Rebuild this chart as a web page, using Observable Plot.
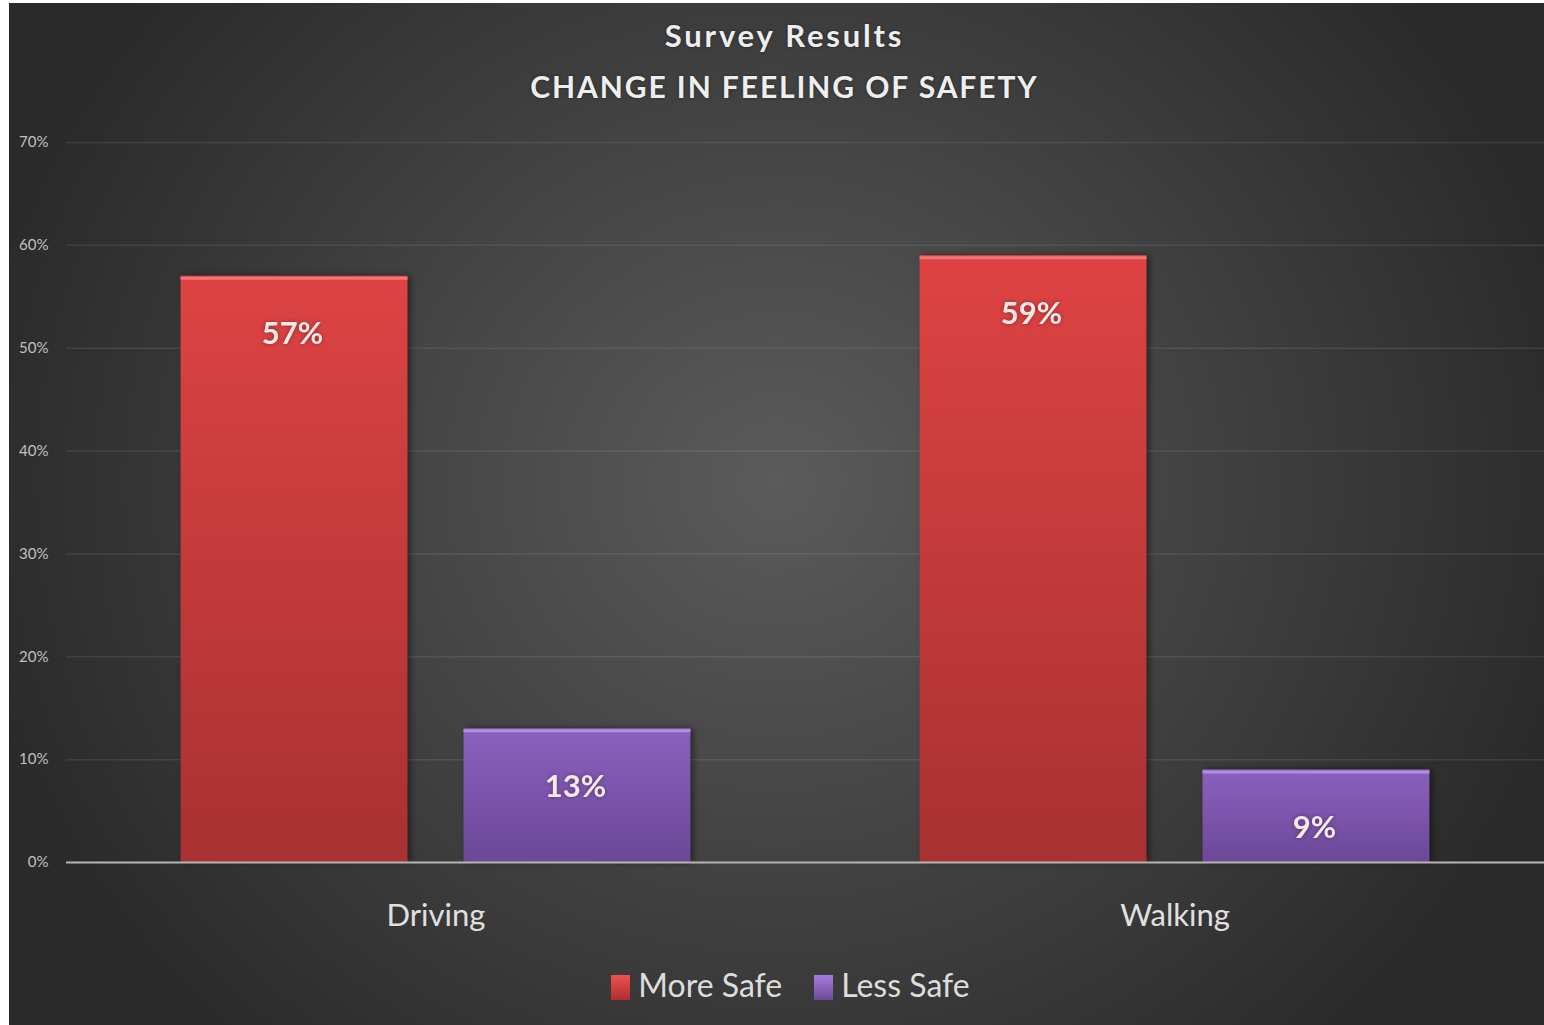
<!DOCTYPE html>
<html>
<head>
<meta charset="utf-8">
<script src="https://cdn.jsdelivr.net/npm/d3@7"></script>
<script src="https://cdn.jsdelivr.net/npm/@observablehq/plot@0.6"></script>
<style>
  html, body { margin: 0; padding: 0; background: #ffffff; width: 1544px; height: 1025px; overflow: hidden; }
  #frame {
    position: absolute; left: 9px; top: 3px; width: 1535px; height: 1022px;
    background: radial-gradient(ellipse 820px 760px at 50% 47%, #5b5b5b 0%, #2a2a2a 100%);
    font-family: Lato, "Open Sans", sans-serif;
    overflow: hidden;
  }
  .title { position: absolute; left: 8px; width: 100%; text-align: center; color: #eeeeee; font-weight: bold; text-shadow: 0 0 3px rgba(0,0,0,0.5); }
  #t1 { top: 13px; font-size: 31px; letter-spacing: 2.8px; }
  #t2 { top: 65px; font-size: 30px; letter-spacing: 1.9px; }
  #chart { position: absolute; left: 0; top: 119px; }
  #legend { position: absolute; left: 14px; top: 962px; width: 100%; text-align: center; color: #dddddd; font-size: 32px; }
  .item { display: inline-block; margin: 0 16px; }
  .sw { display: inline-block; width: 19px; height: 25px; vertical-align: -3px; margin-right: 8px; }
</style>
</head>
<body>
<div id="frame">
  <div class="title" id="t1">Survey Results</div>
  <div class="title" id="t2">CHANGE IN FEELING OF SAFETY</div>
  <div id="chart"></div>
  <div id="legend"></div>
</div>
<script>
const categories = ["Driving", "Walking"];
const series = ["More Safe", "Less Safe"];
const moreSafe = [57, 59];
const lessSafe = [13, 9];
const yTicks = [0, 10, 20, 30, 40, 50, 60, 70];
const seriesColors = ["url(#gradRed)", "url(#gradPurple)"];
const highlightColors = ["#f27474", "#b08ee0"];
const legendSwatches = ["linear-gradient(#f05050, #b02e2e)", "linear-gradient(#a57be0, #6f4a9a)"];

const data = [];
categories.forEach((c, i) => {
  data.push({category: c, series: series[0], value: moreSafe[i]});
  data.push({category: c, series: series[1], value: lessSafe[i]});
});

const plot = Plot.plot({
  width: 1535,
  height: 820,
  marginLeft: 56,
  marginRight: 0,
  marginTop: 20,
  marginBottom: 80,
  style: {background: "transparent", fontFamily: "Lato, 'Open Sans', sans-serif", color: "#cccccc", overflow: "visible"},
  fx: {domain: categories, padding: 0, label: null},
  x: {domain: series, paddingInner: 0.198, paddingOuter: 0.405, round: false, axis: null},
  y: {domain: [0, 70], label: null},
  color: {domain: series, range: seriesColors},
  marks: [
    Plot.gridY(yTicks, {stroke: "#ffffff", strokeOpacity: 0.09, strokeWidth: 1.5}),
    Plot.axisY(yTicks, {tickSize: 0, tickPadding: 18, tickFormat: d => d + "%", fontSize: 15, fill: "#c0c0c0", label: null}),
    Plot.axisFx({anchor: "bottom", tickSize: 0, tickPadding: 41, fontSize: 31, fill: "#e0e0e0", label: null}),
    Plot.barY(data, {fx: "category", x: "series", y: "value", fill: "series"}),
    Plot.tickY(data, {fx: "category", x: "series", y: "value", stroke: d => highlightColors[series.indexOf(d.series)], strokeWidth: 3, dy: 2}),
    Plot.ruleY([0], {stroke: "#b4b4b4", strokeWidth: 2}),
    Plot.text(data, {fx: "category", x: "series", y: "value", text: d => d.value + "%", dy: 58, dx: -2, fill: "#f5e8e8", fontSize: 31, fontWeight: "bold"})
  ]
});

const svg = d3.select(plot);
const defs = svg.insert("defs", ":first-child");
const g1 = defs.append("linearGradient").attr("id", "gradRed").attr("x1", 0).attr("y1", 0).attr("x2", 0).attr("y2", 1);
g1.append("stop").attr("offset", "0%").attr("stop-color", "#de4343");
g1.append("stop").attr("offset", "100%").attr("stop-color", "#a83131");
const g2 = defs.append("linearGradient").attr("id", "gradPurple").attr("x1", 0).attr("y1", 0).attr("x2", 0).attr("y2", 1);
g2.append("stop").attr("offset", "0%").attr("stop-color", "#8c60be");
g2.append("stop").attr("offset", "100%").attr("stop-color", "#6c4897");
svg.selectAll("g[aria-label='bar']").style("filter", "drop-shadow(3px 0px 3px rgba(0,0,0,0.45))");
svg.selectAll("g[aria-label='text']").style("filter", "drop-shadow(0px 0px 2px rgba(0,0,0,0.35))");

document.getElementById("chart").appendChild(plot);

const legend = document.getElementById("legend");
series.forEach((s, i) => {
  const item = document.createElement("span");
  item.className = "item";
  const sw = document.createElement("span");
  sw.className = "sw";
  sw.style.background = legendSwatches[i];
  item.appendChild(sw);
  item.appendChild(document.createTextNode(s));
  legend.appendChild(item);
});
</script>
</body>
</html>
